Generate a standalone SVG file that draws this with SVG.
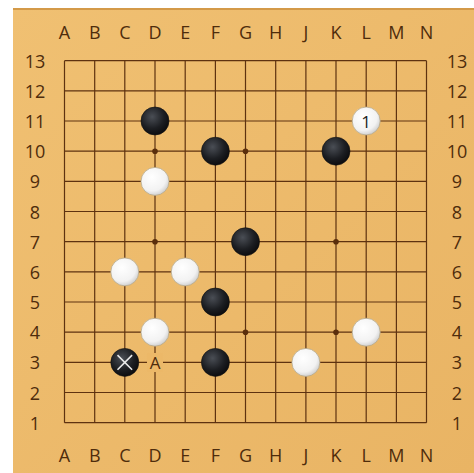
<svg xmlns="http://www.w3.org/2000/svg" width="474" height="473" viewBox="0 0 474 473">
<defs>
<linearGradient id="wood" x1="0" y1="0" x2="1" y2="1">
<stop offset="0" stop-color="#f0c072"/>
<stop offset="1" stop-color="#e9b464"/>
</linearGradient>
<radialGradient id="bl" cx="0.4" cy="0.35" r="0.7">
<stop offset="0" stop-color="#4a4e55"/>
<stop offset="0.6" stop-color="#1c1e22"/>
<stop offset="1" stop-color="#0a0a0c"/>
</radialGradient>
<radialGradient id="wh" cx="0.4" cy="0.35" r="0.7">
<stop offset="0" stop-color="#ffffff"/>
<stop offset="0.7" stop-color="#f2f2f2"/>
<stop offset="1" stop-color="#c9c9c9"/>
</radialGradient>
<style>
.g{stroke:#5e3210;stroke-width:1.2;fill:none}
.lbl{font-family:"Open Sans","Noto Sans",sans-serif;font-size:18px;fill:#4e2c0c;text-anchor:middle;dominant-baseline:central}
.b{fill:url(#bl);stroke:#111;stroke-width:0.6}
.w{fill:url(#wh);stroke:#b8a98a;stroke-width:0.8}
.s{fill:#5a2e0c}
.m{font-family:"Open Sans","Noto Sans",sans-serif;font-size:17px;text-anchor:middle;dominant-baseline:central}
</style>
</defs>
<rect width="474" height="473" fill="#ffffff"/>
<rect x="13" y="8" width="461" height="465" fill="url(#wood)"/>
<rect x="13" y="8" width="461" height="2" fill="#d49a48"/>
<g id="labels">
<text class="lbl" x="64.5" y="32">A</text><text class="lbl" x="94.7" y="32">B</text><text class="lbl" x="124.8" y="32">C</text><text class="lbl" x="155" y="32">D</text><text class="lbl" x="185.2" y="32">E</text><text class="lbl" x="215.4" y="32">F</text><text class="lbl" x="245.5" y="32">G</text><text class="lbl" x="275.7" y="32">H</text><text class="lbl" x="305.9" y="32">J</text><text class="lbl" x="336" y="32">K</text><text class="lbl" x="366.2" y="32">L</text><text class="lbl" x="396.4" y="32">M</text><text class="lbl" x="426.5" y="32">N</text>
<text class="lbl" x="64.5" y="455">A</text><text class="lbl" x="94.7" y="455">B</text><text class="lbl" x="124.8" y="455">C</text><text class="lbl" x="155" y="455">D</text><text class="lbl" x="185.2" y="455">E</text><text class="lbl" x="215.4" y="455">F</text><text class="lbl" x="245.5" y="455">G</text><text class="lbl" x="275.7" y="455">H</text><text class="lbl" x="305.9" y="455">J</text><text class="lbl" x="336" y="455">K</text><text class="lbl" x="366.2" y="455">L</text><text class="lbl" x="396.4" y="455">M</text><text class="lbl" x="426.5" y="455">N</text>
<text class="lbl" x="35" y="60.7">13</text><text class="lbl" x="35" y="90.9">12</text><text class="lbl" x="35" y="121">11</text><text class="lbl" x="35" y="151.2">10</text><text class="lbl" x="35" y="181.4">9</text><text class="lbl" x="35" y="211.5">8</text><text class="lbl" x="35" y="241.7">7</text><text class="lbl" x="35" y="271.9">6</text><text class="lbl" x="35" y="302">5</text><text class="lbl" x="35" y="332.2">4</text><text class="lbl" x="35" y="362.4">3</text><text class="lbl" x="35" y="392.5">2</text><text class="lbl" x="35" y="422.7">1</text>
<text class="lbl" x="457" y="60.7">13</text><text class="lbl" x="457" y="90.9">12</text><text class="lbl" x="457" y="121">11</text><text class="lbl" x="457" y="151.2">10</text><text class="lbl" x="457" y="181.4">9</text><text class="lbl" x="457" y="211.5">8</text><text class="lbl" x="457" y="241.7">7</text><text class="lbl" x="457" y="271.9">6</text><text class="lbl" x="457" y="302">5</text><text class="lbl" x="457" y="332.2">4</text><text class="lbl" x="457" y="362.4">3</text><text class="lbl" x="457" y="392.5">2</text><text class="lbl" x="457" y="422.7">1</text>
</g>
<g id="grid">
<path class="g" d="M64.5 60.7H426.5M64.5 90.9H426.5M64.5 121H426.5M64.5 151.2H426.5M64.5 181.4H426.5M64.5 211.5H426.5M64.5 241.7H426.5M64.5 271.9H426.5M64.5 302H426.5M64.5 332.2H426.5M64.5 362.4H426.5M64.5 392.5H426.5M64.5 422.7H426.5"/>
<path class="g" d="M64.5 60.7V422.7M94.7 60.7V422.7M124.8 60.7V422.7M155 60.7V422.7M185.2 60.7V422.7M215.4 60.7V422.7M245.5 60.7V422.7M275.7 60.7V422.7M305.9 60.7V422.7M336 60.7V422.7M366.2 60.7V422.7M396.4 60.7V422.7M426.5 60.7V422.7"/>
<circle class="s" cx="155" cy="151.2" r="2.8"/><circle class="s" cx="245.5" cy="151.2" r="2.8"/><circle class="s" cx="336" cy="151.2" r="2.8"/>
<circle class="s" cx="155" cy="241.7" r="2.8"/><circle class="s" cx="245.5" cy="241.7" r="2.8"/><circle class="s" cx="336" cy="241.7" r="2.8"/>
<circle class="s" cx="155" cy="332.2" r="2.8"/><circle class="s" cx="245.5" cy="332.2" r="2.8"/><circle class="s" cx="336" cy="332.2" r="2.8"/>
</g>
<g id="black">
<circle class="b" cx="155" cy="121" r="14"/>
<circle class="b" cx="215.4" cy="151.2" r="14"/>
<circle class="b" cx="336" cy="151.2" r="14"/>
<circle class="b" cx="245.5" cy="241.7" r="14"/>
<circle class="b" cx="215.4" cy="302" r="14"/>
<circle class="b" cx="215.4" cy="362.4" r="14"/>
<g id="c3"><circle class="b" cx="124.8" cy="362.4" r="14"/><path d="M117.5 355.1L132.1 369.7M132.1 355.1L117.5 369.7" stroke="#e8e8e8" stroke-width="1.6"/></g>
</g>
<g id="white">
<g id="l11"><circle class="w" cx="366.2" cy="121" r="14"/><text class="m" x="366.2" y="121" fill="#222">1</text></g>
<circle class="w" cx="155" cy="181.4" r="14"/>
<circle class="w" cx="124.8" cy="271.9" r="14"/>
<circle class="w" cx="185.2" cy="271.9" r="14"/>
<circle class="w" cx="155" cy="332.2" r="14"/>
<circle class="w" cx="366.2" cy="332.2" r="14"/>
<circle class="w" cx="305.9" cy="362.4" r="14"/>
</g>
<g id="markA">
<rect x="147" y="353" width="16" height="19" fill="#ecb868"/>
<text class="m" x="155" y="362.4" fill="#4e2c0c">A</text>
</g>
</svg>
